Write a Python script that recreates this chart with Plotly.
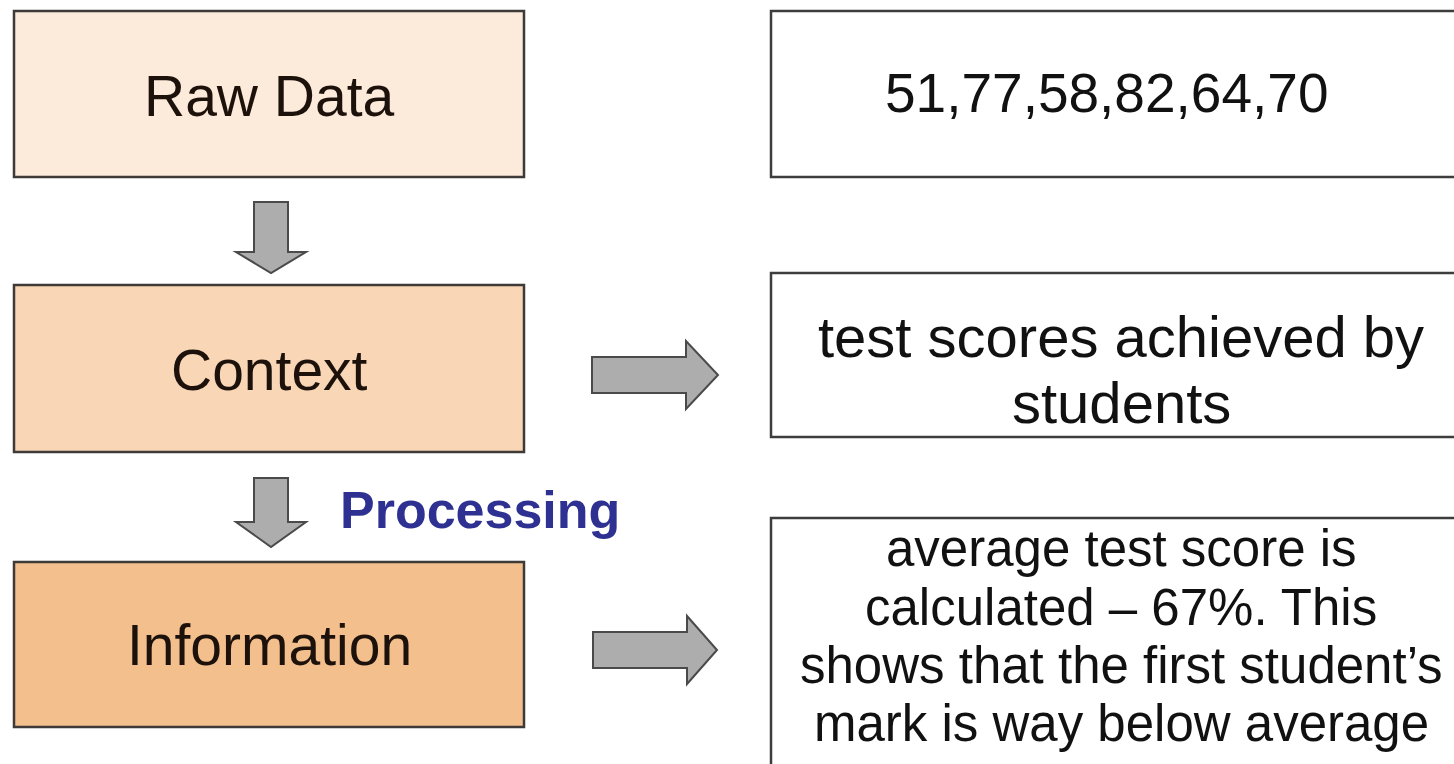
import plotly.graph_objects as go

W, H = 1454, 764

# Left stage boxes
stage_labels = ["Raw Data", "Context", "Information"]
stage_fill = ["#FCEADB", "#F9D6B5", "#F3BF8C"]
stage_x = [14, 524]
stage_top = [11, 285, 562]
stage_bottom = [177, 452, 727]
stage_text_y = [96, 370, 645]

# Right example boxes
example_x = [771, 1480]
example_top = [11, 273, 518]
example_bottom = [177, 437, 800]
example_lines = [
    ["51,77,58,82,64,70"],
    ["test scores achieved by", "students"],
    ["average test score is", "calculated \u2013 67%. This",
     "shows that the first student\u2019s", "mark is way below average"],
]
example_line_y = [[93], [336, 402], [548, 607, 665, 723]]
example_center_x = [1106, 1121, 1121]
example_font = [55, 58, 51]

# Down arrows: centre x, shaft top, head base, tip
down_cx = [271, 271]
down_top = [202, 478]
down_head = [252, 522]
down_tip = [273, 547]
down_shaft_half = 17
down_head_half = 35

# Right arrows: centre y, shaft left, head base, tip
right_cy = [375, 650]
right_left = [592, 593]
right_head = [686, 687]
right_tip = [718, 717]
right_shaft_half = 18
right_head_half = 34

process_label = "Processing"
process_pos = (480, 510)

fig = go.Figure()
shapes = []
annotations = []

for i, lab in enumerate(stage_labels):
    shapes.append(dict(type="rect", xref="x", yref="y",
                       x0=stage_x[0], x1=stage_x[1], y0=stage_top[i], y1=stage_bottom[i],
                       fillcolor=stage_fill[i], line=dict(color="#3d3a38", width=2.5)))
    annotations.append(dict(x=(stage_x[0] + stage_x[1]) / 2, y=stage_text_y[i], xref="x", yref="y",
                            text=lab, showarrow=False, xanchor="center", yanchor="middle",
                            font=dict(family="Liberation Sans, Arial", size=57, color="#1c120b")))

for i, lines in enumerate(example_lines):
    shapes.append(dict(type="rect", xref="x", yref="y",
                       x0=example_x[0], x1=example_x[1], y0=example_top[i], y1=example_bottom[i],
                       fillcolor="white", line=dict(color="#3d3d3d", width=2.5)))
    for j, ln in enumerate(lines):
        annotations.append(dict(x=example_center_x[i], y=example_line_y[i][j], xref="x", yref="y",
                                text=ln, showarrow=False, xanchor="center", yanchor="middle",
                                font=dict(family="Liberation Sans, Arial", size=example_font[i], color="#111111")))

for i in range(len(down_cx)):
    cx = down_cx[i]
    p = (f"M {cx - down_shaft_half} {down_top[i]} L {cx + down_shaft_half} {down_top[i]} "
         f"L {cx + down_shaft_half} {down_head[i]} L {cx + down_head_half} {down_head[i]} "
         f"L {cx} {down_tip[i]} L {cx - down_head_half} {down_head[i]} "
         f"L {cx - down_shaft_half} {down_head[i]} Z")
    shapes.append(dict(type="path", xref="x", yref="y", path=p,
                       fillcolor="#ADADAD", line=dict(color="#4a4a4a", width=2)))

for i in range(len(right_cy)):
    cy = right_cy[i]
    p = (f"M {right_left[i]} {cy - right_shaft_half} L {right_head[i]} {cy - right_shaft_half} "
         f"L {right_head[i]} {cy - right_head_half} L {right_tip[i]} {cy} "
         f"L {right_head[i]} {cy + right_head_half} L {right_head[i]} {cy + right_shaft_half} "
         f"L {right_left[i]} {cy + right_shaft_half} Z")
    shapes.append(dict(type="path", xref="x", yref="y", path=p,
                       fillcolor="#ADADAD", line=dict(color="#4a4a4a", width=2)))

annotations.append(dict(x=process_pos[0], y=process_pos[1], xref="x", yref="y",
                        text=f"<b>{process_label}</b>", showarrow=False,
                        xanchor="center", yanchor="middle",
                        font=dict(family="Liberation Sans, Arial", size=52, color="#2E3192")))

fig.update_layout(
    width=W, height=H,
    margin=dict(l=0, r=0, t=0, b=0),
    paper_bgcolor="white", plot_bgcolor="white",
    xaxis=dict(range=[0, W], visible=False, fixedrange=True),
    yaxis=dict(range=[H, 0], visible=False, fixedrange=True),
    shapes=shapes, annotations=annotations, showlegend=False,
)

fig.write_html("out.html", config={"displayModeBar": False},
               post_script="document.body.style.margin='0';document.body.style.overflow='hidden';")
